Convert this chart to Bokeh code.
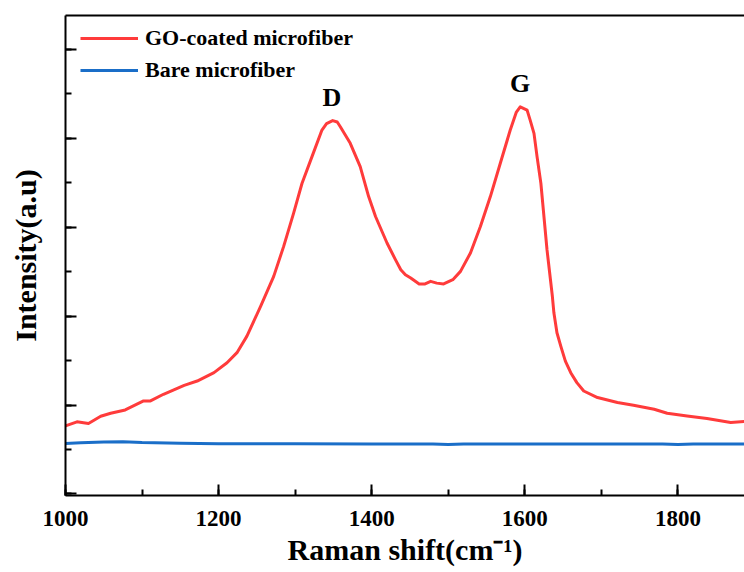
from bokeh.plotting import figure
from bokeh.models import (Range1d, SingleIntervalTicker, LinearAxis, FixedTicker,
                          Legend, LegendItem, Label)
from bokeh.embed import file_html
from bokeh.resources import INLINE

# Raman shift (cm^-1) and intensity (a.u.)
go_x = [1000, 1015, 1030, 1046, 1059, 1078, 1102, 1111, 1128, 1155, 1172, 1194,
        1211, 1224, 1237, 1255, 1272, 1285, 1298, 1309, 1322, 1335, 1341, 1349,
        1355, 1359, 1372, 1385, 1396, 1405, 1420, 1431, 1438, 1444, 1451, 1462,
        1469, 1477, 1485, 1494, 1506, 1516, 1529, 1542, 1555, 1568, 1581, 1589,
        1594, 1603, 1607, 1612, 1616, 1621, 1629, 1631, 1636, 1638, 1642, 1647,
        1653, 1660, 1668, 1677, 1695, 1721, 1742, 1769, 1786, 1812, 1838, 1869,
        1887]
go_y = [766, 811, 793, 874, 908, 945, 1046, 1046, 1121, 1222, 1270, 1364,
        1476, 1589, 1775, 2111, 2447, 2784, 3158, 3494, 3793, 4092, 4165, 4198,
        4182, 4129, 3943, 3680, 3344, 3120, 2822, 2635, 2522, 2466, 2429, 2362,
        2360, 2391, 2371, 2362, 2410, 2503, 2710, 3008, 3344, 3719, 4092, 4294,
        4353, 4316, 4204, 4055, 3793, 3494, 2747, 2597, 2223, 2037, 1813, 1663,
        1494, 1364, 1252, 1158, 1084, 1028, 998, 953, 908, 878, 849, 804,
        815]

bare_x = [1000, 1020, 1050, 1075, 1100, 1150, 1200, 1300, 1400, 1480, 1500, 1520,
          1600, 1700, 1780, 1800, 1820, 1887]
bare_y = [568, 575, 585, 588, 578, 570, 566, 564, 563, 562, 556, 562,
          563, 562, 562, 556, 562, 563]

x_ticks_interval = 200
y_ticks_interval = 1000
peak_names = ["D", "G"]
peak_x = [1348, 1594]
peak_y = [4290, 4450]

FONT = "Liberation Serif"

p = figure(width=744, height=572, output_backend="svg", toolbar_location=None,
           x_range=Range1d(1000, 1887), y_range=Range1d(-17, 5380),
           min_border_left=65, min_border_right=0, min_border_top=15,
           min_border_bottom=77)
p.outline_line_color = None
p.grid.visible = False
p.background_fill_color = "white"
p.border_fill_color = "white"

r_go = p.line(go_x, go_y, line_color="#ff3b3b", line_width=3,
              line_join="round")
r_bare = p.line(bare_x, bare_y, line_color="#1a6ec8", line_width=3,
                line_join="round")

# axes
xa = p.xaxis[0]
xa.ticker = SingleIntervalTicker(interval=x_ticks_interval, num_minor_ticks=2)
ya = p.yaxis[0]
ya.ticker = SingleIntervalTicker(interval=y_ticks_interval, num_minor_ticks=2)
for ax in (xa, ya):
    ax.axis_line_width = 2
    ax.axis_line_color = "black"
    ax.major_tick_line_width = 2
    ax.minor_tick_line_width = 2
    ax.major_tick_line_color = "black"
    ax.minor_tick_line_color = "black"
    ax.major_tick_in = 11
    ax.major_tick_out = 0
    ax.minor_tick_in = 6
    ax.minor_tick_out = 0
    ax.axis_label_text_font = FONT
    ax.axis_label_text_font_style = "bold"
    ax.axis_label_text_font_size = "30px"
    ax.axis_label_text_color = "black"
    ax.major_label_text_font = FONT
    ax.major_label_text_font_style = "bold"
    ax.major_label_text_color = "black"

xa.axis_label = "Raman shift(cm\u207b\u00b9)"
xa.major_label_text_font_size = "23px"
xa.major_label_standoff = 15
xa.axis_label_standoff = 4

ya.axis_label = "Intensity(a.u)"
ya.major_label_text_color = None
ya.major_label_text_font_size = "1px"
ya.major_label_standoff = 0
ya.axis_label_standoff = 24

top = LinearAxis(ticker=FixedTicker(ticks=[]), axis_line_width=2,
                 axis_line_color="black", major_label_text_color=None,
                 major_tick_line_color=None, minor_tick_line_color=None,
                 major_label_standoff=0)
p.add_layout(top, "above")

# peak labels
for name, xx, yy in zip(peak_names, peak_x, peak_y):
    p.add_layout(Label(x=xx, y=yy, text=name, text_font=FONT,
                       text_font_style="bold", text_font_size="26px",
                       text_align="center", text_baseline="bottom",
                       text_color="black"))

legend = Legend(items=[LegendItem(label="GO-coated microfiber", renderers=[r_go]),
                       LegendItem(label="Bare microfiber", renderers=[r_bare])],
                location=(15, 412))
legend.border_line_color = None
legend.background_fill_alpha = 0
legend.label_text_font = FONT
legend.label_text_font_style = "bold"
legend.label_text_font_size = "22px"
legend.label_text_color = "black"
legend.glyph_width = 58
legend.glyph_height = 26
legend.label_height = 26
legend.label_standoff = 7
legend.spacing = 6
legend.margin = 0
legend.padding = 0
p.add_layout(legend)

open("out.html", "w").write(file_html(p, INLINE))
